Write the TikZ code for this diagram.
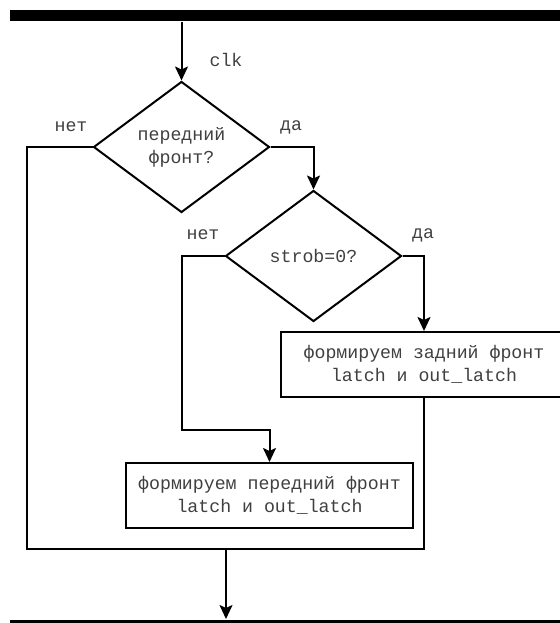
\documentclass[tikz,border=0pt]{standalone}
\usepackage{fontspec}
\setmonofont{Liberation Mono}
\usetikzlibrary{shapes.geometric,arrows.meta}
\begin{document}
\begin{tikzpicture}[x=1bp,y=-1bp,
  line width=2bp,
  txt/.style={font=\ttfamily\fontsize{18.3}{23}\selectfont, text=black!75},
  dec/.style={diamond, draw, inner sep=0pt, minimum width=176bp, minimum height=131bp, shape aspect=1.35, txt, align=center},
  act/.style={rectangle, draw, inner sep=0pt, minimum width=287bp, minimum height=65bp, txt, align=center},
  bus/.style={rectangle, fill=black, draw=none, inner sep=0pt, minimum width=560bp, minimum height=11bp},
  arr/.style={-{Stealth[length=14bp,width=13bp,inset=3bp]}},
  lbl/.style={txt, inner sep=0pt}]
\useasboundingbox (0,0) rectangle (560,623);
\node[bus] (topbar) at (290,16) {};
\node[bus] (botbar) at (290,625.5) {};
\node[dec] (d1) at (181.5,147) {передний\\фронт?};
\node[dec] (d2) at (313.5,256) {strob=0?};
\node[act] (b1) at (424,364.5) {формируем задний фронт\\latch и out\_latch};
\node[act] (b2) at (269.5,495.5) {формируем передний фронт\\latch и out\_latch};
\coordinate (k1) at (182,430);
\coordinate (k2) at (27,549);
\coordinate (m) at (226,549);
\node[lbl] (clk) at (226,60) {clk};
\node[lbl] (n1) at (71,127) {нет};
\node[lbl] (y1) at (291,127) {да};
\node[lbl] (n2) at (203,235) {нет};
\node[lbl] (y2) at (423,235) {да};
\draw[arr] (d1.north |- topbar.south) -- (d1.north);
\draw[arr] (d1.east) -| (d2.north);
\draw[arr] (d2.east) -| (b1.north);
\draw[arr] (d2.west) -| (k1) -| (b2.north);
\draw (d1.west) -| (k2) -| (b1.south);
\draw[arr] (m) -- (m |- botbar.north);
\end{tikzpicture}
\end{document}
